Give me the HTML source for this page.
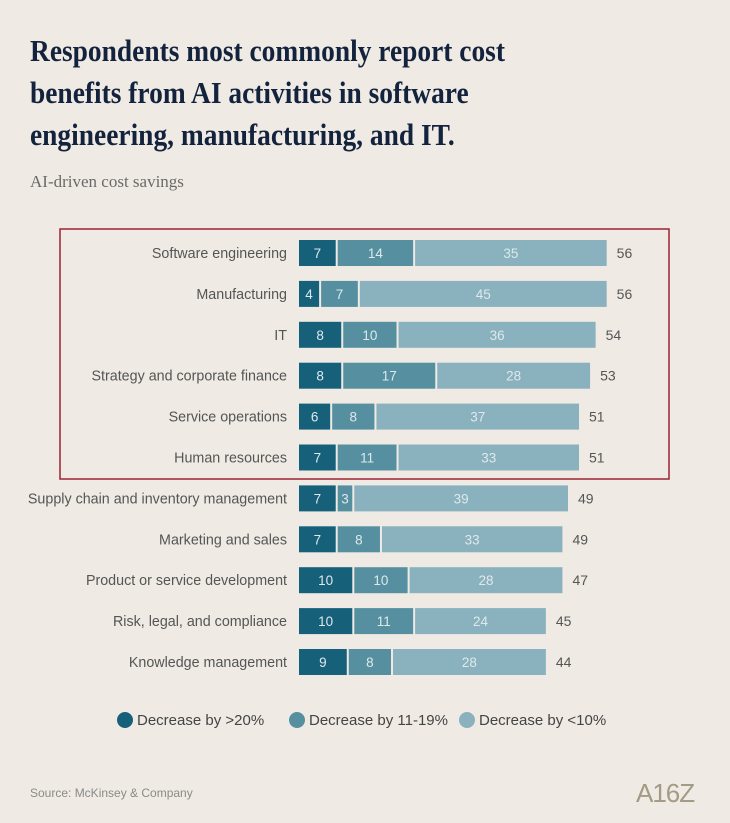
<!DOCTYPE html>
<html><head><meta charset="utf-8"><style>
body{margin:0;background:#efebe4;width:730px;height:823px;overflow:hidden;font-family:"Liberation Sans",sans-serif}
h1{position:absolute;left:30px;top:30px;margin:0;font-family:"Liberation Serif",serif;font-weight:bold;font-size:31px;line-height:42px;color:#14233d;white-space:nowrap;transform:scaleX(0.885);transform-origin:left top}
.sub{position:absolute;left:30px;top:172px;font-family:"Liberation Serif",serif;font-size:17px;color:#6a6a6a}
.src{position:absolute;left:30px;top:786px;font-size:12px;color:#8a8a8a}
.logo{position:absolute;left:636px;top:778px;font-size:26px;color:#a39b86;font-family:"Liberation Sans",sans-serif;letter-spacing:-1px}
</style></head><body>
<h1>Respondents most commonly report cost<br>benefits from AI activities in software<br>engineering, manufacturing, and IT.</h1>
<div class="sub">AI-driven cost savings</div>
<svg id="chart" width="730" height="823" style="position:absolute;left:0;top:0"></svg>
<div class="src">Source: McKinsey &amp; Company</div>
<div class="logo">A16Z</div>
<script>
const categories=["Software engineering","Manufacturing","IT","Strategy and corporate finance","Service operations","Human resources","Supply chain and inventory management","Marketing and sales","Product or service development","Risk, legal, and compliance","Knowledge management"];
const over20=[7,4,8,8,6,7,7,7,10,10,9];
const mid11to19=[14,7,10,17,8,11,3,8,10,11,8];
const under10=[35,45,36,28,37,33,39,33,28,24,28];
const totals=[56,56,54,53,51,51,49,49,47,45,44];
const seriesNames=["Decrease by >20%","Decrease by 11-19%","Decrease by <10%"];
const colors=["#17607a","#5690a0","#8ab1be"];
const NS="http://www.w3.org/2000/svg";
const svg=document.getElementById('chart');
const x0=299,k=5.53;
const xs=v=>x0+v*k;
const ys=i=>240+i*40.9;
const bh=26;
function mk(t,a){const e=document.createElementNS(NS,t);for(const p in a)e.setAttribute(p,a[p]);svg.appendChild(e);return e;}
const box=mk('rect',{x:60,y:229,width:609,height:250,fill:'none',stroke:'#9b2335','stroke-width':1.5});


const series=[over20,mid11to19,under10];
categories.forEach((c,i)=>{
  const y=ys(i);
  const lb=mk('text',{x:287,y:y+bh/2+5,'text-anchor':'end','font-size':14.3,fill:'#555'});
  lb.textContent=c;
  
  
  let acc=0;
  series.forEach((s,j)=>{
    const v=s[i];
    const r=mk('rect',{x:xs(acc),y:y,width:Math.max(0,v*k-2),height:bh,fill:colors[j]});
    
    
    const t=mk('text',{x:xs(acc)+(v*k-2)/2,y:y+bh/2+5,'text-anchor':'middle','font-size':13.5,fill:'#dde9ec'});
    t.textContent=v;
    
    
    acc+=v;
  });
  const tt=mk('text',{x:xs(acc)+8,y:y+bh/2+5,'font-size':14,fill:'#555'});
  tt.textContent=totals[i];
  
  
});
const lx=[116,288,458];
seriesNames.forEach((n,j)=>{
  const c=mk('circle',{cx:lx[j]+9,cy:720,r:8,fill:colors[j]});
  
  
  const t=mk('text',{x:lx[j]+21,y:725,'font-size':15,fill:'#444'});
  t.textContent=n;
  
  
});
</script>
</body></html>
